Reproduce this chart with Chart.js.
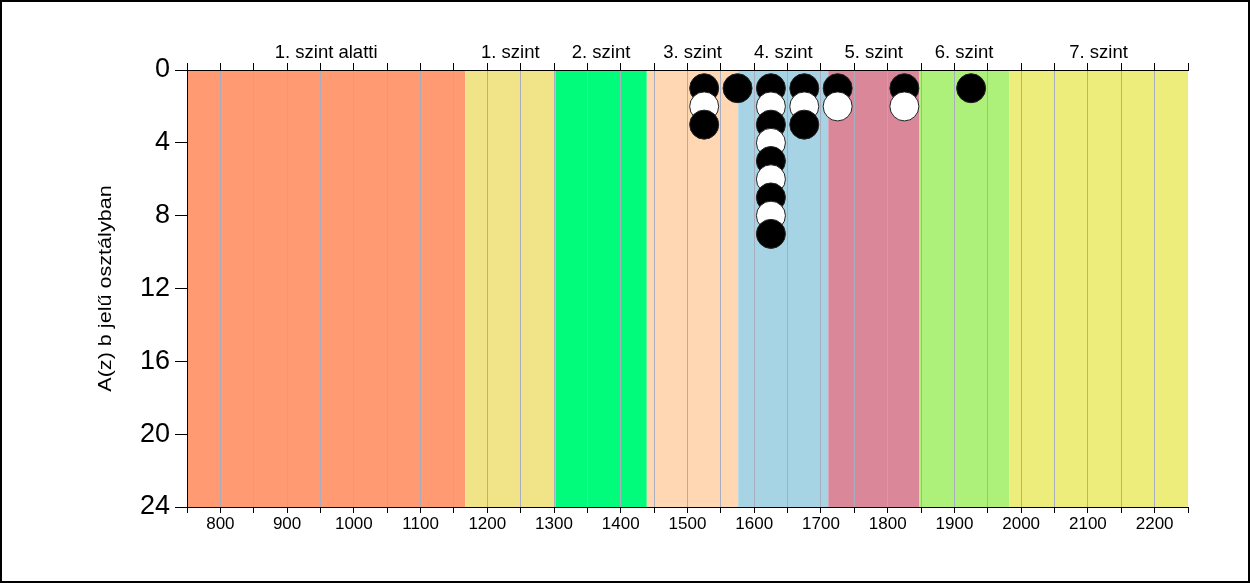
<!DOCTYPE html>
<html>
<head>
<meta charset="utf-8">
<script src="https://cdn.jsdelivr.net/npm/chart.js@4/dist/chart.umd.min.js"></script>
<style>
html,body{margin:0;padding:0;background:#fff;overflow:hidden;}
canvas{display:block;}
</style>
</head>
<body>
<canvas id="c" width="1250" height="583"></canvas>
<script>
// ---- data ----
const scores    = [1525,1525,1525, 1575, 1625,1625,1625,1625,1625,1625,1625,1625,1625, 1675,1675,1675, 1725,1725, 1825,1825, 1925];
const stackPos  = [1,2,3,          1,    1,2,3,4,5,6,7,8,9,                        1,2,3,          1,2,       1,2,       1];
const bandEdges = [750, 1167, 1302, 1439, 1576, 1711, 1847, 1982, 2250];
const bandLabels = ['1. szint alatti','1. szint','2. szint','3. szint','4. szint','5. szint','6. szint','7. szint'];
const bandColors = ['#FF9A72','#F0E388','#00FC7A','#FFD7B3','#A6D4E4','#D98799','#ADF07A','#EDED7B'];
const yTicks = [0,4,8,12,16,20,24];
const yTitle = 'A(z) b jelű osztályban';

const FONT = "'Liberation Sans', Arial, sans-serif";
const bandCenters = bandLabels.map((_, i) => (bandEdges[i] + bandEdges[i+1]) / 2);
const points = scores.map((s, i) => ({x: s, y: stackPos[i]}));
const fills = stackPos.map(p => p % 2 === 1 ? '#000000' : '#ffffff');

const bandsPlugin = {
  id: 'bands',
  beforeDraw(chart) {
    const {ctx, chartArea: a, scales: {x}} = chart;
    ctx.save();
    ctx.fillStyle = '#fff';
    ctx.fillRect(0, 0, chart.width, chart.height);
    for (let i = 0; i < bandLabels.length; i++) {
      const x0 = x.getPixelForValue(bandEdges[i]);
      const x1 = x.getPixelForValue(bandEdges[i+1]);
      ctx.fillStyle = bandColors[i];
      ctx.fillRect(x0, a.top, x1 - x0, a.bottom - a.top);
    }
    ctx.restore();
  },
  afterDraw(chart) {
    const {ctx, chartArea: a} = chart;
    ctx.save();
    // y axis title
    ctx.translate(111, (a.top + a.bottom) / 2);
    ctx.rotate(-Math.PI / 2);
    ctx.scale(1.2, 1);
    ctx.font = "18px " + FONT;
    ctx.fillStyle = '#000';
    ctx.textAlign = 'center';
    ctx.textBaseline = 'alphabetic';
    ctx.fillText(yTitle, 0, 0);
    ctx.restore();
    // outer frame
    ctx.save();
    ctx.strokeStyle = '#000';
    ctx.lineWidth = 2;
    ctx.strokeRect(1, 1, chart.width - 2, chart.height - 2);
    ctx.restore();
  }
};

new Chart(document.getElementById('c'), {
  type: 'scatter',
  data: {
    datasets: [{
      data: points,
      pointRadius: 14.5,
      pointHoverRadius: 14.5,
      pointBackgroundColor: fills,
      pointBorderColor: '#222',
      pointBorderWidth: 1,
      clip: false
    }]
  },
  options: {
    responsive: false,
    animation: false,
    events: [],
    devicePixelRatio: 1,
    layout: {padding: {left: 0, right: 62, top: 0, bottom: 0}},
    plugins: {legend: {display: false}, tooltip: {enabled: false}},
    scales: {
      x: {
        type: 'linear', position: 'bottom', min: 750, max: 2250,
        ticks: {
          stepSize: 50, autoSkip: false, maxRotation: 0, padding: 1,
          color: '#000', font: {family: FONT, size: 17},
          callback: v => (v % 100 === 0 ? String(v) : '')
        },
        grid: {
          drawOnChartArea: true, drawTicks: true, tickLength: 6, tickColor: '#000',
          color: c => (c.tick && (c.tick.value === 750 || c.tick.value === 2250)) ? 'rgba(0,0,0,0)' : '#A8AEBE',
          lineWidth: 1
        },
        border: {display: true, color: '#000', width: 1},
        afterFit: s => { s.height = 76; }
      },
      xt: {
        type: 'linear', position: 'top', min: 750, max: 2250, weight: 0,
        ticks: {display: false, stepSize: 50, autoSkip: false},
        grid: {drawOnChartArea: false, drawTicks: true, tickLength: 7, tickColor: '#000', color: '#000'},
        border: {display: true, color: '#000', width: 1},
        afterFit: s => { s.height = 5; }
      },
      xl: {
        type: 'linear', position: 'top', min: 750, max: 2250, weight: 1,
        afterBuildTicks: s => { s.ticks = bandCenters.map(v => ({value: v})); },
        ticks: {
          autoSkip: false, maxRotation: 0, padding: 1,
          color: '#000', font: {family: FONT, size: 18.5},
          callback: (v, i) => bandLabels[i]
        },
        grid: {display: false, drawTicks: false},
        border: {display: false},
        afterFit: s => { s.height = 65; }
      },
      y: {
        type: 'linear', position: 'left', min: 0, max: 24, reverse: true,
        afterBuildTicks: s => { s.ticks = yTicks.map(v => ({value: v})); },
        ticks: {
          autoSkip: false, padding: 5, color: '#000',
          font: {family: FONT, size: 27},
          callback: v => String(v)
        },
        grid: {drawOnChartArea: false, drawTicks: true, tickLength: 12, tickColor: '#000', color: '#000'},
        border: {display: true, color: '#000', width: 1},
        afterFit: s => { s.width = 187; }
      }
    }
  },
  plugins: [bandsPlugin]
});
</script>
</body>
</html>
